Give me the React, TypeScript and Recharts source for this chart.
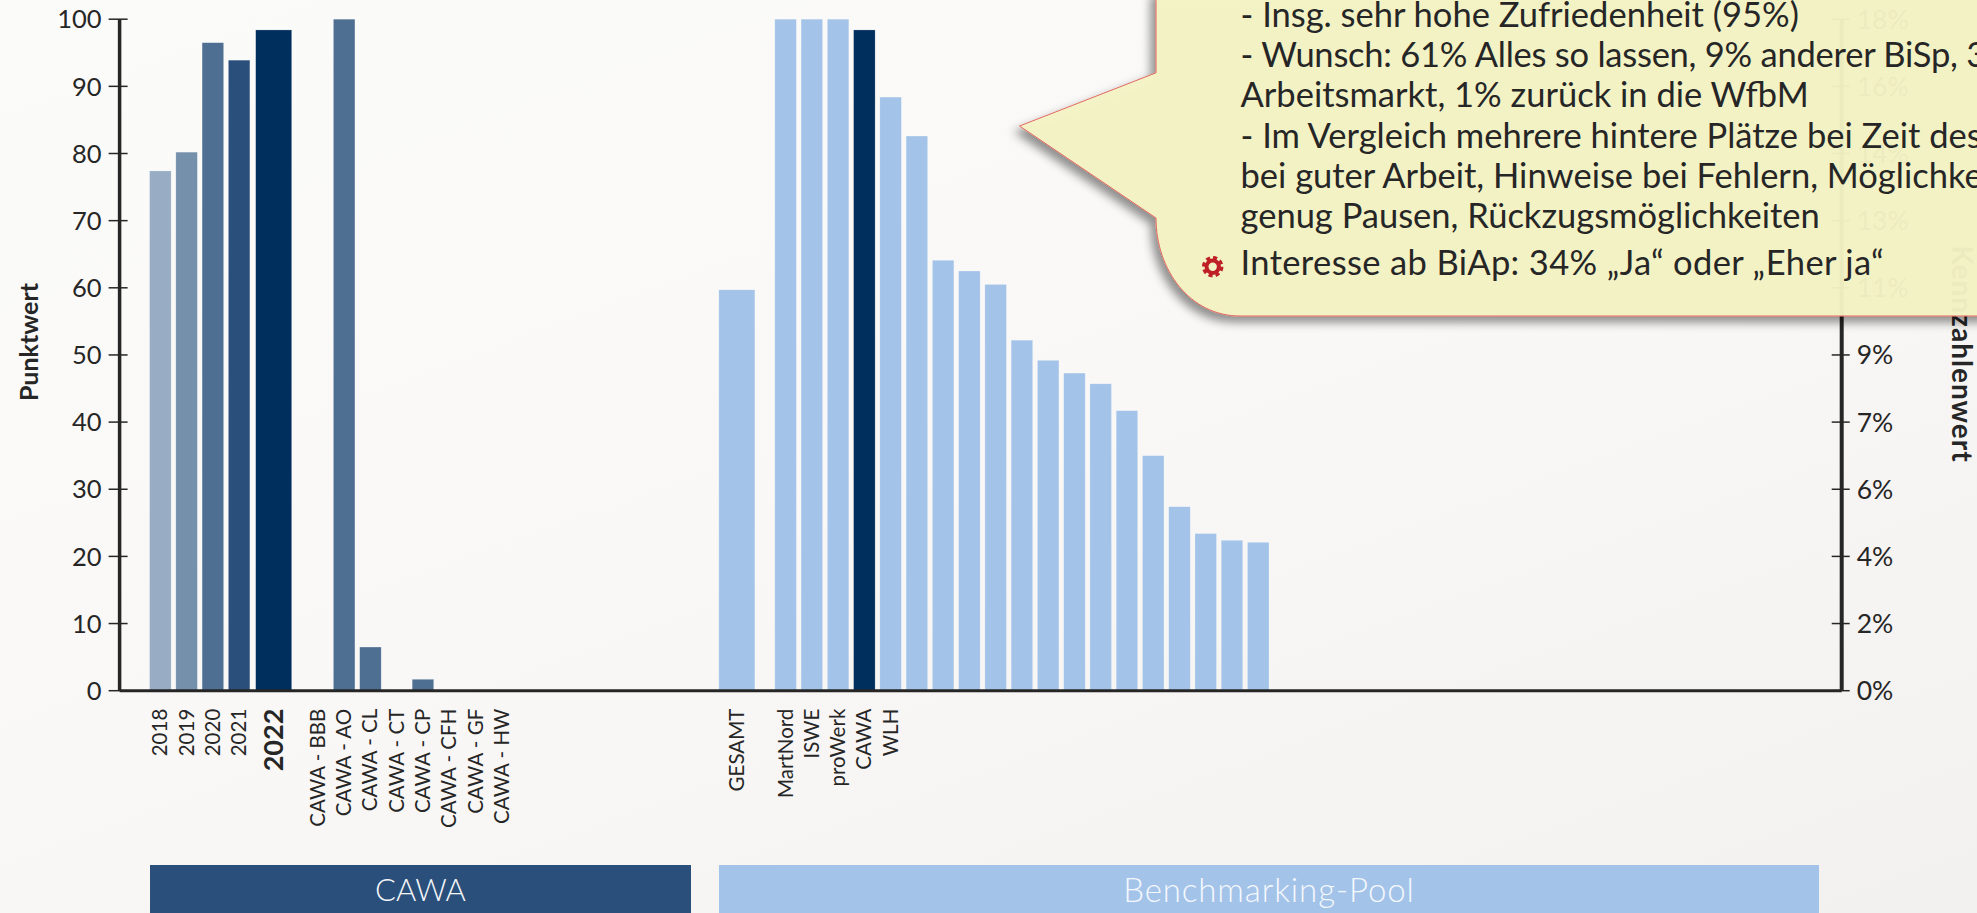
import { ComposedChart, Bar, Line, Cell, XAxis, YAxis } from "recharts"

const cawaYears = ["2018", "2019", "2020", "2021", "2022"]
const cawaYearValues = [77.4, 80.2, 96.5, 93.9, 98.4]
const cawaUnits = ["CAWA - BBB", "CAWA - AO", "CAWA - CL", "CAWA - CT", "CAWA - CP", "CAWA - CFH", "CAWA - GF", "CAWA - HW"]
const cawaUnitValues = [0, 100, 6.5, 0, 1.7, 0, 0, 0]
const poolTotalLabel = "GESAMT"
const poolTotalValue = 59.7
const poolLabels = ["MartNord", "ISWE", "proWerk", "CAWA", "WLH", "", "", "", "", "", "", "", "", "", "", "", "", "", ""]
const poolValues = [100, 100, 100, 98.4, 88.4, 82.6, 64.1, 62.5, 60.5, 52.2, 49.2, 47.3, 45.7, 41.7, 35, 27.4, 23.4, 22.4, 22.1]
const leftTicks = [0, 10, 20, 30, 40, 50, 60, 70, 80, 90, 100]
const rightTickLabels = ["0%", "2%", "4%", "6%", "7%", "9%", "11%", "13%", "14%", "16%", "18%"]

const calloutLines = [
  "- Insg. sehr hohe Zufriedenheit (95%)",
  "- Wunsch: 61% Alles so lassen, 9% anderer BiSp, 3",
  "Arbeitsmarkt, 1% zurück in die WfbM",
  "- Im Vergleich mehrere hintere Plätze bei Zeit des",
  "bei guter Arbeit, Hinweise bei Fehlern, Möglichkeiten",
  "genug Pausen, Rückzugsmöglichkeiten",
]
const calloutLastLine = "Interesse ab BiAp: 34% „Ja“ oder „Eher ja“"

const FONT = "Lato, sans-serif"
const TEXT = "#262626"
const AXIS = "#262626"
const POOL_BLUE = "#A4C3E9"
const CAWA_BLUE = "#2A4F7A"
const DARK_BLUE = "#002E5D"
const MID_BLUE = "#4E6E92"

const blanks = (n: number) => Array.from({ length: n }, () => ({ name: "", value: null as number | null }))
const pairs = (names: string[], values: number[]) => names.map((name, i) => ({ name, value: values[i] as number | null }))

const chartData = [
  ...pairs(cawaYears, cawaYearValues),
  ...blanks(1),
  ...pairs(cawaUnits, cawaUnitValues),
  ...blanks(8),
  { name: poolTotalLabel, value: poolTotalValue as number | null },
  ...blanks(1),
  ...pairs(poolLabels, poolValues),
  ...blanks(21),
].map((row, slot) => ({ ...row, slot }))

const yearColors: Record<string, string> = {
  "2018": "#98ACC3",
  "2019": "#7590AB",
  "2020": MID_BLUE,
  "2021": CAWA_BLUE,
  "2022": DARK_BLUE,
}

function barColor(slot: number) {
  const d = chartData[slot]
  if (yearColors[d.name]) return yearColors[d.name]
  if (slot < 14) return MID_BLUE
  if (d.name === "CAWA") return DARK_BLUE
  return POOL_BLUE
}

// the original sets 2022 and GESAMT apart as wider bars and nudges the pool group
function slotShift(slot: number) {
  if (slot === 4) return 8.3
  if (slot === 22) return -1.2
  if (slot > 22) return -5
  return 0
}

function isWide(slot: number) {
  return slot === 4 || slot === 22
}

function WideableBar(props: any) {
  const { x, y, width, height, payload } = props
  if (!height) return null
  const slot = payload.slot
  const w = isWide(slot) ? 36 : width
  const cx = x + width / 2 + slotShift(slot)
  return <rect x={cx - w / 2} y={y} width={w} height={height} fill={barColor(slot)} stroke="#ffffff" strokeOpacity={0.35} strokeWidth={0.6} />
}

function CategoryTick(props: any) {
  const { x, y, index } = props
  const name = chartData[index]?.name
  if (!name) return null
  const big = name === "2022"
  const cx = x + slotShift(index) - 0.5
  const top = y + 10
  return (
    <text
      x={cx}
      y={top}
      dy="0.35em"
      transform={`rotate(-90 ${cx} ${top})`}
      textAnchor="end"
      fontFamily={FONT}
      fontSize={big ? 27 : 20.5}
      fontWeight={big ? 700 : 400}
      fill={TEXT}
    >
      {name}
    </text>
  )
}

function LeftTick({ x, y, payload }: any) {
  return (
    <g>
      <line x1={x - 11} x2={x + 8} y1={y} y2={y} stroke={AXIS} strokeWidth={1.5} />
      <text x={x - 18} y={y} dy="0.36em" textAnchor="end" fontFamily={FONT} fontSize={25.5} fill={TEXT}>
        {payload.value}
      </text>
    </g>
  )
}

function RightTick({ x, y, index }: any) {
  return (
    <g>
      <line x1={x - 10} x2={x + 8} y1={y} y2={y} stroke={AXIS} strokeWidth={1.5} />
      <text x={x + 15} y={y} dy="0.36em" textAnchor="start" fontFamily={FONT} fontSize={26.5} fill={TEXT}>
        {rightTickLabels[index]}
      </text>
    </g>
  )
}

function AxisTitles() {
  return (
    <svg width={1977} height={913} style={{ position: "absolute", left: 0, top: 0, pointerEvents: "none" }}>
      <text
        transform="translate(29 342) rotate(-90)"
        dy="0.35em"
        textAnchor="middle"
        fontFamily={FONT}
        fontSize={25}
        fontWeight={700}
        fill={TEXT}
      >
        Punktwert
      </text>
      <text
        transform="translate(1962 354) rotate(90)"
        dy="0.35em"
        textAnchor="middle"
        fontFamily={FONT}
        fontSize={28}
        letterSpacing={1}
        fontWeight={700}
        fill={TEXT}
      >
        Kennzahlenwert
      </text>
    </svg>
  )
}

function Callout() {
  const path =
    "M1156 -10 L1156 72.8 L1019.6 126 L1156 218 C1156 270 1190 316 1240 316 L1990 316 L1990 -10 Z"
  const baselines = [26.5, 66.5, 107, 147.5, 187.5, 228]
  const spacing = [0, -0.24, 0, 0, 0, 0]
  return (
    <svg width={1977} height={913} style={{ position: "absolute", left: 0, top: 0, pointerEvents: "none" }}>
      <defs>
        <filter id="calloutShadow" x="-10%" y="-10%" width="120%" height="130%">
          <feDropShadow dx={-5} dy={6} stdDeviation={5} floodColor="#000000" floodOpacity={0.45} />
        </filter>
      </defs>
      <path d={path} fill="#F5F4C6" fillOpacity={0.94} stroke="#E2685F" strokeWidth={1} filter="url(#calloutShadow)" />
      {calloutLines.map((line, i) => (
        <text key={line} x={1240.5} y={baselines[i]} fontFamily={FONT} fontSize={34.5} letterSpacing={spacing[i]} fill={TEXT}>
          {line}
        </text>
      ))}
      <text x={1240.5} y={275} fontFamily={FONT} fontSize={34.5} letterSpacing={0.36} fill={TEXT}>
        {calloutLastLine}
      </text>
      <circle cx={1212.7} cy={266.7} r={8} fill="none" stroke="#BE2026" strokeWidth={5.5} strokeDasharray="3.6 2.7" />
      <circle cx={1212.7} cy={266.7} r={6.2} fill="none" stroke="#BE2026" strokeWidth={4} />
    </svg>
  )
}

function GroupBand({ left, right, fill, color, label, fontSize, spacing }: { left: number; right: number; fill: string; color: string; label: string; fontSize: number; spacing: number }) {
  return (
    <div
      style={{
        position: "absolute",
        left,
        top: 865,
        width: right - left,
        height: 48,
        background: fill,
        color,
        fontFamily: FONT,
        fontSize,
        letterSpacing: spacing,
        fontWeight: 300,
        textAlign: "center",
        lineHeight: "48px",
      }}
    >
      {label}
    </div>
  )
}

export default function App() {
  return (
    <div
      style={{
        position: "fixed",
        left: 0,
        top: 0,
        width: 1977,
        height: 913,
        overflow: "hidden",
        background: "linear-gradient(160deg, #FBFBFA 0%, #F9F8F7 50%, #F3F1F0 100%)",
      }}
    >
      <ComposedChart
        width={1977}
        height={913}
        data={chartData}
        margin={{ top: 19.2, right: 45.3, bottom: 22.3, left: 19.6 }}
        barSize={21.5}
      >
        <XAxis
          dataKey="name"
          interval={0}
          height={200}
          padding={{ left: 28, right: 13.5 }}
          tick={<CategoryTick />}
          tickLine={false}
          axisLine={{ stroke: AXIS, strokeWidth: 3 }}
        />
        <YAxis
          yAxisId="left"
          width={100}
          domain={[0, 100]}
          ticks={leftTicks}
          interval={0}
          tick={<LeftTick />}
          tickLine={false}
          tickSize={0}
          tickMargin={0}
          axisLine={{ stroke: AXIS, strokeWidth: 3.5 }}
        />
        <YAxis
          yAxisId="right"
          orientation="right"
          width={90}
          domain={[0, 100]}
          ticks={leftTicks}
          interval={0}
          tick={<RightTick />}
          tickLine={false}
          tickSize={0}
          tickMargin={0}
          axisLine={{ stroke: AXIS, strokeWidth: 4 }}
        />
        <Bar yAxisId="left" dataKey="value" isAnimationActive={false} shape={<WideableBar />}>
          {chartData.map((entry) => (
            <Cell key={entry.slot} fill={barColor(entry.slot)} />
          ))}
        </Bar>
        {/* keeps the right axis alive, it has no visible series of its own */}
        <Line yAxisId="right" dataKey="value" stroke="none" dot={false} legendType="none" isAnimationActive={false} />
      </ComposedChart>
      <AxisTitles />
      <GroupBand left={150} right={691} fill={CAWA_BLUE} color="#F4F6F9" label="CAWA" fontSize={31} spacing={0} />
      <GroupBand left={719} right={1819} fill={POOL_BLUE} color="#F4F8FC" label="Benchmarking-Pool" fontSize={33} spacing={0.9} />
      <Callout />
    </div>
  )
}
